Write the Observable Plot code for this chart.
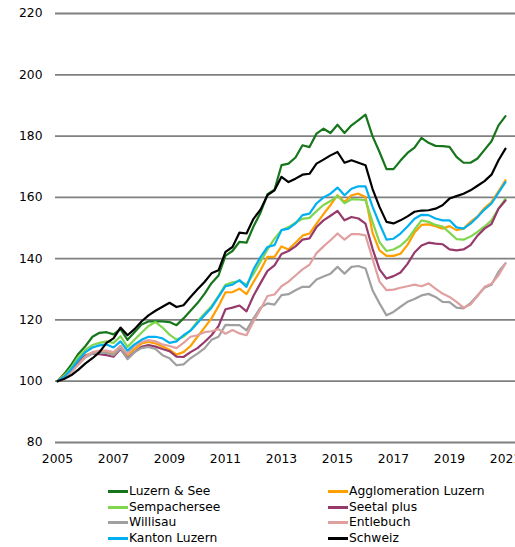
<!DOCTYPE html>
<html>
<head>
<meta charset="utf-8">
<script src="https://cdn.jsdelivr.net/npm/d3@7"></script>
<script src="https://cdn.jsdelivr.net/npm/@observablehq/plot@0.6"></script>
<style>
  html, body { margin: 0; padding: 0; background: #fff; overflow: hidden; }
  body { width: 515px; height: 547px; font-family: "DejaVu Sans", sans-serif; }
  #legend { position: relative; height: 67px; font-size: 12.3px; color: #000; }
  .item { position: absolute; display: flex; align-items: center; height: 15px; line-height: 15px; white-space: nowrap; }
  .sw { width: 20px; height: 3px; margin-right: 1px; }
</style>
</head>
<body>
<div id="chart"></div>
<div id="legend"></div>
<script>
// Quarterly index values, 2005 Q1 = 100 (2005 Q1 … 2021 Q1)
const startYear = 2005;
const seriesNames = ["Luzern & See", "Agglomeration Luzern", "Sempachersee", "Seetal plus", "Willisau", "Entlebuch", "Kanton Luzern", "Schweiz"];
const seriesColors = ["#17761c", "#ffa000", "#80d64e", "#953a6b", "#a0a0a0", "#e0a0a0", "#00b0f0", "#000000"];

const luzernSee = [100, 102.5, 105.5, 109, 111.5, 114.5, 115.8, 116, 115.3, 117, 113.5, 116, 118.5, 119.5, 119.5, 119.5, 119.3, 118.3, 120.5, 123, 125.5, 128.5, 132, 134.5, 141, 142.5, 145.5, 145.2, 150.5, 155, 161, 162.5, 170.5, 171, 173, 177, 176.4, 180.8, 182.4, 181, 183.7, 181, 183.5, 185.2, 187, 180, 174.8, 169.2, 169.2, 172, 174.5, 176.2, 179.4, 177.8, 176.8, 176.7, 176.5, 173.2, 171.3, 171.3, 172.7, 175.5, 178.3, 183.5, 186.5];
const agglomeration = [100, 102, 104, 106.5, 108.5, 109.3, 109.6, 109.5, 109, 111.5, 108.5, 110.5, 112.3, 112.8, 112.3, 111.3, 110.3, 108.7, 109.5, 111.5, 114.5, 117.5, 120.5, 124.5, 129, 129.1, 130.2, 128.4, 132.4, 136.2, 140.6, 140.6, 144, 143, 145.2, 147.5, 148.2, 151.4, 154.5, 157.5, 160.7, 158.5, 160.7, 161.2, 160.1, 148.5, 142.7, 140.9, 140.9, 141.6, 144.5, 148.5, 151, 151.2, 150.6, 149.8, 150.6, 149.3, 149.8, 152, 153.8, 156.5, 158.5, 162, 165.6];
const sempachersee = [100, 101.8, 104.5, 108, 110.3, 111.8, 112.5, 113, 112.5, 114.7, 111.2, 113.5, 115.8, 118, 119.3, 117.5, 115.2, 113.6, 114.5, 116.6, 119.5, 122, 124.5, 127.8, 131.5, 132.3, 132.7, 131.5, 135, 139, 143, 146.5, 149.3, 150.3, 151.7, 153, 153.3, 155.5, 157.5, 158.8, 160.5, 158.1, 159.4, 159.3, 159.1, 152, 145.4, 142.5, 143, 144.2, 146.3, 149.5, 152.5, 152, 151, 150.5, 148.5, 146.4, 146.2, 147.2, 148.7, 150.5, 152.5, 156.3, 159.6];
const seetalPlus = [100, 101.5, 103.5, 106, 108.3, 109, 108.8, 108.5, 108, 110.5, 107.5, 109.5, 111.2, 111.8, 111.3, 110.5, 109.8, 108, 107.9, 109.5, 110.8, 112.8, 115, 118, 123.5, 124, 124.7, 122.8, 127.9, 132, 136, 137.8, 141.5, 142.5, 144, 146.2, 146.6, 150.3, 152.5, 154, 155.6, 152.5, 153.6, 153.1, 151.4, 143.3, 136.5, 133.5, 134.3, 135.5, 138.3, 142, 144.3, 145.2, 144.9, 144.7, 143, 142.7, 143, 144.4, 147.5, 149.8, 151.3, 156.3, 159];
const willisau = [100, 101, 103, 105.5, 107.8, 109, 109.3, 109.2, 108.5, 110.8, 107.2, 109.5, 110.8, 111.2, 110.5, 108.5, 107.5, 105.2, 105.5, 107.5, 109, 110.7, 113.5, 114.5, 118.4, 118.3, 118.3, 116.6, 120.5, 124, 125.4, 125, 128.1, 128.4, 129.7, 130.8, 130.8, 133.2, 134.2, 135.1, 137.3, 135.1, 137.3, 137.6, 136.8, 129.7, 125.4, 121.5, 122.6, 124.3, 125.9, 126.8, 128, 128.5, 127.5, 125.9, 125.8, 124, 123.8, 125.5, 128, 130.5, 131.5, 135.7, 138.5];
const entlebuch = [100, 101, 103, 105.5, 108, 109.5, 110, 110, 109.5, 111.5, 109, 111.5, 112.8, 113.4, 113, 112, 111.5, 110.8, 112.5, 114.5, 115, 116, 116.3, 117, 115.5, 116.7, 115.6, 115, 119.5, 123.5, 127.8, 128.3, 131, 132.5, 134.5, 136.5, 138, 141.8, 144, 146, 148.2, 146.2, 148, 148, 147.6, 140, 132.5, 129.7, 129.9, 130.5, 131, 131.5, 131, 131.9, 130.2, 128.6, 127.5, 125.9, 124, 125, 127.8, 130.8, 131.8, 134.6, 138.4];
const kantonLuzern = [100, 101.5, 104, 107, 109.5, 111, 111.7, 112, 111, 113, 110, 112, 113.5, 114.5, 114.5, 114, 112.5, 113, 115, 116.5, 119, 121.5, 124, 127.5, 131, 131.5, 133, 130.8, 136.5, 140.5, 143.8, 144.4, 149.3, 149.8, 151.5, 154.2, 154.7, 158, 160, 161.2, 163.2, 160.7, 162.8, 163.6, 163.6, 157, 151.4, 146.2, 146.5, 148.2, 150.5, 153, 154.3, 154.2, 153.1, 152.5, 152.5, 150.2, 149.8, 151.4, 153.6, 156, 158, 161.5, 165];
const schweiz = [100, 100.8, 102, 103.8, 105.8, 107.5, 109.5, 112.5, 114, 117.5, 115, 117, 119.5, 121.5, 123, 124.3, 125.6, 124.2, 124.8, 127.5, 130, 132.4, 135.2, 136.2, 142.2, 143.8, 148.5, 148.2, 153, 156, 160.7, 162.3, 166.7, 165, 166.1, 167.4, 167.7, 171, 172.3, 173.7, 174.8, 171.3, 172.1, 171.3, 170.5, 162.8, 156.9, 152, 151.5, 152.5, 153.8, 155.3, 155.7, 155.8, 156.3, 157.4, 159.6, 160.4, 161.2, 162.3, 163.8, 165.3, 167.4, 172.1, 175.9];

const yTicks = [80, 100, 120, 140, 160, 180, 200, 220];
const xTicks = [2005, 2007, 2009, 2011, 2013, 2015, 2017, 2019, 2021];

const seriesValues = [luzernSee, agglomeration, sempachersee, seetalPlus, willisau, entlebuch, kantonLuzern, schweiz];
const rows = [];
seriesValues.forEach((vals, s) => {
  vals.forEach((v, i) => rows.push({series: seriesNames[s], date: startYear + i / 4, value: v}));
});

const chart = Plot.plot({
  width: 515,
  height: 480,
  marginLeft: 55,
  marginRight: 0,
  marginTop: 13,
  marginBottom: 38,
  style: {fontFamily: "DejaVu Sans", fontSize: "12.3px", color: "#000", background: "#fff", overflow: "hidden"},
  x: {domain: [2005 - 2 / 28, 2005 + 458 / 28], ticks: xTicks, tickFormat: d => String(d), tickSize: 0, tickPadding: 12, label: null},
  y: {domain: [80, 220], ticks: yTicks, tickSize: 0, tickPadding: 13, label: null},
  color: {domain: seriesNames, range: seriesColors},
  marks: [
    Plot.ruleY(yTicks, {stroke: "#808080", strokeWidth: 1.8}),
    Plot.line(rows, {x: "date", y: "value", z: "series", stroke: "series", strokeWidth: 2.2, strokeLinejoin: "round"})
  ]
});
document.getElementById("chart").appendChild(chart);

// Legend (two columns, four rows)
const legend = document.getElementById("legend");
const colX = [108, 328];
const rowY = [4, 20, 35, 51];
seriesNames.forEach((name, k) => {
  const col = k % 2, row = Math.floor(k / 2);
  const item = document.createElement("div");
  item.className = "item";
  item.style.left = colX[col] + "px";
  item.style.top = rowY[row] + "px";
  const sw = document.createElement("span");
  sw.className = "sw";
  sw.style.background = seriesColors[k];
  const label = document.createElement("span");
  label.textContent = name;
  item.appendChild(sw);
  item.appendChild(label);
  legend.appendChild(item);
});
</script>
</body>
</html>
